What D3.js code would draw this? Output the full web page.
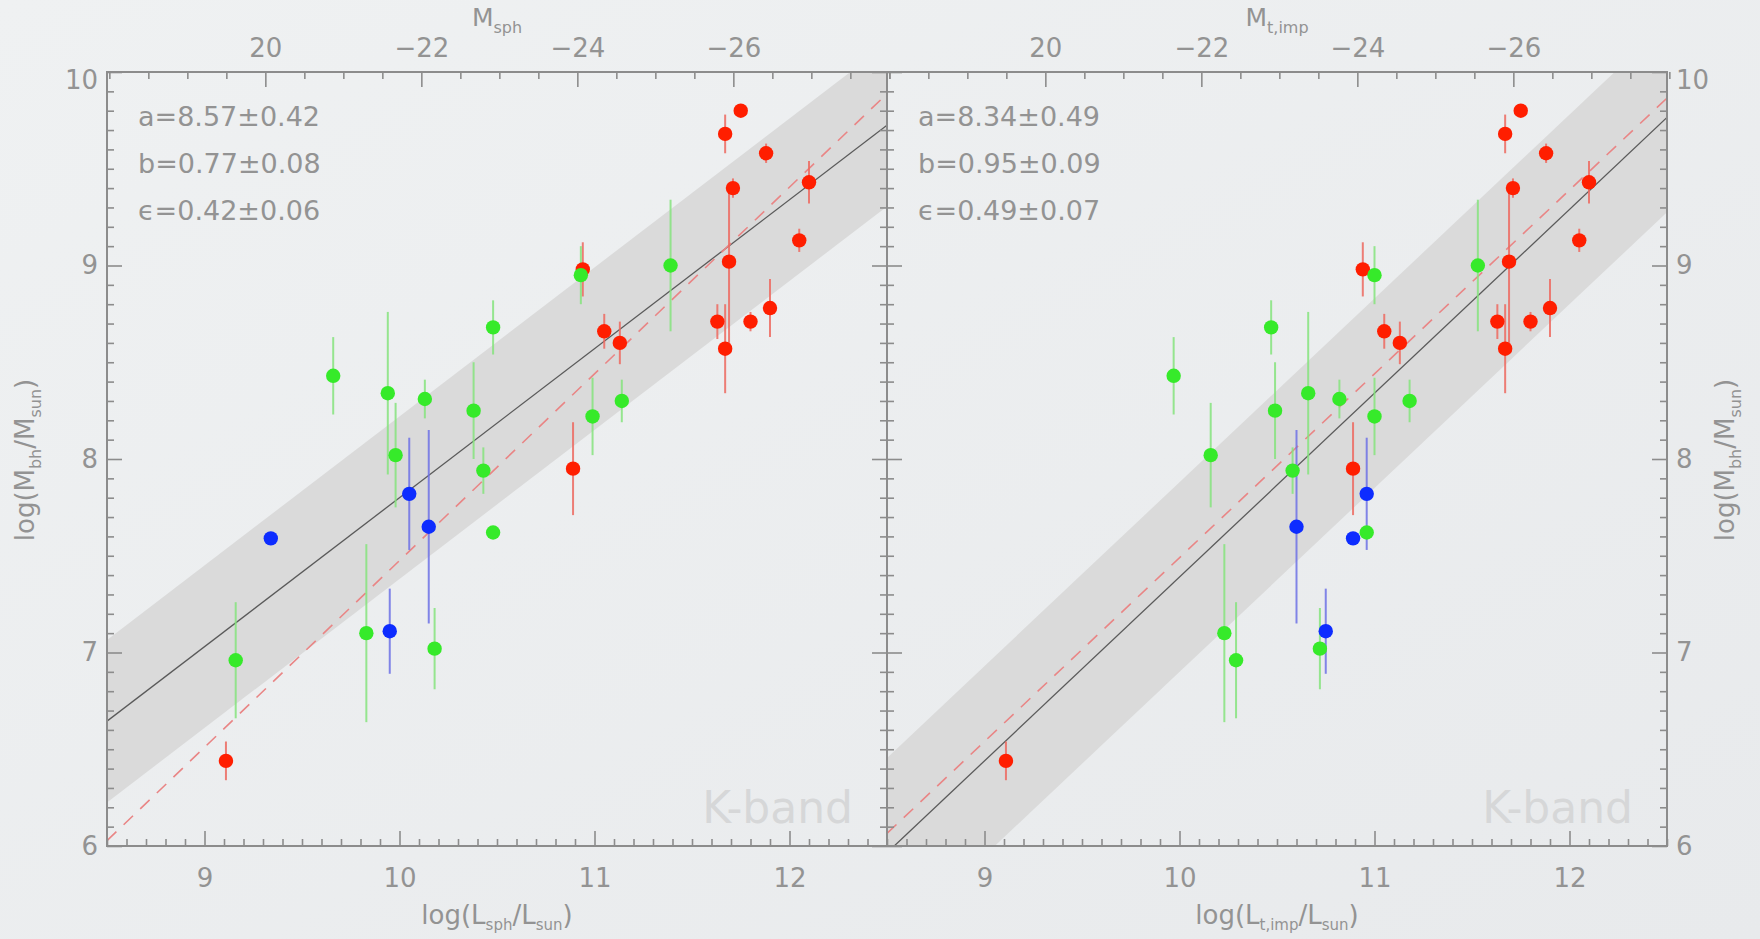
<!DOCTYPE html>
<html><head><meta charset="utf-8">
<script src="https://cdn.jsdelivr.net/npm/d3@7"></script>
<style>body{margin:0;background:#e9ebec;} svg{display:block}</style>
</head><body>
<svg id="chart" width="1760" height="939"></svg>
<script>
// ---------------- data ----------------
// red: ellipticals (same luminosity in both panels)
const redLogM   = [6.44, 7.95, 8.98, 8.66, 8.60, 9.68, 9.80, 9.58, 9.43, 9.40, 9.02, 9.13, 8.78, 8.71, 8.71, 8.57];
const redErrLo  = [0.10, 0.24, 0.14, 0.09, 0.11, 0.10, 0.03, 0.05, 0.11, 0.05, 0.42, 0.06, 0.15, 0.05, 0.09, 0.23];
const redErrHi  = [0.10, 0.24, 0.14, 0.09, 0.11, 0.10, 0.03, 0.05, 0.11, 0.05, 0.38, 0.06, 0.15, 0.05, 0.09, 0.23];
const redLsph   = [9.11, 10.89, 10.94, 11.05, 11.13, 11.67, 11.75, 11.88, 12.10, 11.71, 11.69, 12.05, 11.90, 11.80, 11.63, 11.67];
const redLtot   = [9.11, 10.89, 10.94, 11.05, 11.13, 11.67, 11.75, 11.88, 12.10, 11.71, 11.69, 12.05, 11.90, 11.80, 11.63, 11.67];
// green
const greenLogM = [6.96, 8.43, 7.10, 8.34, 8.02, 8.31, 7.02, 8.25, 7.94, 7.62, 8.68, 8.95, 8.22, 8.30, 9.00];
const greenErr  = [0.30, 0.20, 0.46, 0.42, 0.27, 0.10, 0.21, 0.25, 0.12, 0.03, 0.14, 0.15, 0.20, 0.11, 0.34];
const greenLsph = [9.16, 9.66, 9.83, 9.94, 9.98, 10.13, 10.18, 10.38, 10.43, 10.48, 10.48, 10.93, 10.99, 11.14, 11.39];
const greenLtot = [10.29, 9.97, 10.23, 10.66, 10.16, 10.82, 10.72, 10.49, 10.58, 10.96, 10.47, 11.00, 11.00, 11.18, 11.53];
// blue
const blueLogM  = [7.59, 7.11, 7.82, 7.65];
const blueErr   = [0.03, 0.22, 0.29, 0.50];
const blueLsph  = [9.34, 9.95, 10.05, 10.15];
const blueLtot  = [10.89, 10.75, 10.96, 10.60];

// fits (log Mbh = a + b (logL - 11)), scatter eps; dashed reference line
const fitA   = [8.57, 8.34];
const fitB   = [0.77, 0.95];
const fitEps = [0.42, 0.49];
const refA   = [8.44, 8.44];
const refB   = [0.965, 0.95];
const pivot  = 11;

const statLabels = [["a=8.57±0.42", "b=0.77±0.08", "ϵ=0.42±0.06"],
                    ["a=8.34±0.49", "b=0.95±0.09", "ϵ=0.49±0.07"]];
const xTicks = [9, 10, 11, 12];
const yTicks = [6, 7, 8, 9, 10];
const magTicks = [-20, -22, -24, -26];
const magTickLabels = ["20", "−22", "−24", "−26"];
const topTitleSub = ["sph", "t,imp"];
const bottomTitleSub = ["sph", "t,imp"];
const bandLabel = "K-band";

// ---------------- layout ----------------
const W = 1760, H = 939;
const panels = [{x0: 107, x1: 887}, {x0: 887, x1: 1667}];
const yTop = 72, yBot = 846;
const font = "DejaVu Sans";
const txtCol = "#939393";
const axCol = "#8c8c8c";

const svg = d3.select('#chart');
const defs = svg.append('defs');
const grad = defs.append('linearGradient').attr('id', 'bg').attr('x1', 0).attr('y1', 0).attr('x2', 1).attr('y2', 1);
grad.append('stop').attr('offset', '0%').attr('stop-color', '#eff1f2');
grad.append('stop').attr('offset', '100%').attr('stop-color', '#e8eaec');
svg.append('rect').attr('width', W).attr('height', H).attr('fill', 'url(#bg)');

const Y = d3.scaleLinear().domain([6, 10]).range([yBot, yTop]);
const magOf = l => 3.28 - 2.5 * l;

const groups = [
  {m: redLogM, lo: redErrLo, hi: redErrHi, x: [redLsph, redLtot], fill: '#ff1e00', err: '#ee6a60'},
  {m: greenLogM, lo: greenErr, hi: greenErr, x: [greenLsph, greenLtot], fill: '#36ea2a', err: '#86e47e'},
  {m: blueLogM, lo: blueErr, hi: blueErr, x: [blueLsph, blueLtot], fill: '#0d2cff', err: '#6e72e6'}
];

const minorX = d3.range(85, 126).map(v => v / 10).filter(v => v % 1 !== 0);
const minorY = d3.range(60, 101).map(v => v / 10).filter(v => v % 1 !== 0);
const minorM = d3.range(-18, -28.1, -0.5).filter(v => !magTicks.includes(v));

function styleAxis(sel, labels) {
  sel.select('.domain').remove();
  sel.selectAll('line').attr('stroke', axCol).attr('stroke-width', 1.6);
  sel.selectAll('text').attr('fill', txtCol).attr('font-family', font).attr('font-size', 26);
  if (!labels) sel.selectAll('text').remove();
}

panels.forEach((p, i) => {
  const X = d3.scaleLinear().domain([8.5, 12.5]).range([p.x0, p.x1]);
  const M = d3.scaleLinear().domain([magOf(8.5), magOf(12.5)]).range([p.x0, p.x1]);

  defs.append('clipPath').attr('id', 'clip' + i)
    .append('rect').attr('x', p.x0).attr('y', yTop).attr('width', p.x1 - p.x0).attr('height', yBot - yTop);
  const g = svg.append('g').attr('clip-path', `url(#clip${i})`);

  const fit = l => fitA[i] + fitB[i] * (l - pivot);
  const ref = l => refA[i] + refB[i] * (l - pivot);
  const xs = [8.5, 12.5];

  g.append('path').datum(xs)
    .attr('d', d3.area().x(d => X(d)).y0(d => Y(fit(d) - fitEps[i])).y1(d => Y(fit(d) + fitEps[i])))
    .attr('fill', '#dadada');

  g.append('text').attr('x', p.x1 - 34).attr('y', 823).attr('text-anchor', 'end')
    .attr('font-family', font).attr('font-size', 44).attr('fill', '#d6d7d8').text(bandLabel);

  g.append('path').datum(xs).attr('d', d3.line().x(d => X(d)).y(d => Y(fit(d))))
    .attr('stroke', '#5a5a5a').attr('stroke-width', 1.3).attr('fill', 'none');
  g.append('path').datum(xs).attr('d', d3.line().x(d => X(d)).y(d => Y(ref(d))))
    .attr('stroke', '#e98585').attr('stroke-width', 1.6).attr('fill', 'none')
    .attr('stroke-dasharray', '13,10');

  groups.forEach(gr => {
    const data = gr.m.map((m, k) => ({m, lo: gr.lo[k], hi: gr.hi[k], l: gr.x[i][k]}));
    g.append('g').selectAll('line').data(data).join('line')
      .attr('x1', d => X(d.l)).attr('x2', d => X(d.l))
      .attr('y1', d => Y(d.m - d.lo)).attr('y2', d => Y(d.m + d.hi))
      .attr('stroke', gr.err).attr('stroke-width', 2).attr('opacity', 0.85);
  });
  groups.forEach(gr => {
    const data = gr.m.map((m, k) => ({m, l: gr.x[i][k]}));
    g.append('g').selectAll('circle').data(data).join('circle')
      .attr('cx', d => X(d.l)).attr('cy', d => Y(d.m)).attr('r', 7.2)
      .attr('fill', gr.fill);
  });

  // stats text
  statLabels[i].forEach((s, k) => {
    svg.append('text').attr('x', p.x0 + 31).attr('y', 126 + k * 47)
      .attr('font-family', font).attr('font-size', 27).attr('fill', txtCol).text(s);
  });

  // axes
  const ax = (a, tr, labels) => { const s = svg.append('g').attr('transform', tr).call(a); styleAxis(s, labels); return s; };
  ax(d3.axisBottom(X).tickValues(xTicks).tickSize(-15).tickPadding(23).tickFormat(d3.format('d')), `translate(0,${yBot})`, true);
  ax(d3.axisBottom(X).tickValues(minorX).tickSize(-7).tickFormat(''), `translate(0,${yBot})`, false);
  ax(d3.axisTop(M).tickValues(magTicks).tickSize(-15).tickPadding(15).tickFormat((d, k) => magTickLabels[k]), `translate(0,${yTop})`, true);
  ax(d3.axisTop(M).tickValues(minorM).tickSize(-7).tickFormat(''), `translate(0,${yTop})`, false);
  const la = ax(d3.axisLeft(Y).tickValues(yTicks).tickSize(-15).tickPadding(9).tickFormat(d3.format('d')), `translate(${p.x0},0)`, i === 0);
  ax(d3.axisLeft(Y).tickValues(minorY).tickSize(-7).tickFormat(''), `translate(${p.x0},0)`, false);
  const ra = ax(d3.axisRight(Y).tickValues(yTicks).tickSize(-15).tickPadding(9).tickFormat(d3.format('d')), `translate(${p.x1},0)`, i === 1);
  ax(d3.axisRight(Y).tickValues(minorY).tickSize(-7).tickFormat(''), `translate(${p.x1},0)`, false);
  // top label "10" sits slightly below the frame corner, as in the reference
  [la, ra].forEach(s => s.selectAll('.tick').filter(d => d === 10).select('text').attr('dy', '0.62em'));

  svg.append('rect').attr('x', p.x0).attr('y', yTop).attr('width', p.x1 - p.x0).attr('height', yBot - yTop)
    .attr('fill', 'none').attr('stroke', axCol).attr('stroke-width', 2);

  // titles
  const cx = (p.x0 + p.x1) / 2;
  const top = svg.append('text').attr('x', cx).attr('y', 26).attr('text-anchor', 'middle')
    .attr('font-family', font).attr('font-size', 25).attr('fill', txtCol);
  top.append('tspan').text('M');
  top.append('tspan').attr('font-size', 16).attr('dy', 7).text(topTitleSub[i]);

  const bot = svg.append('text').attr('x', cx).attr('y', 924).attr('text-anchor', 'middle')
    .attr('font-family', font).attr('font-size', 26).attr('fill', txtCol);
  bot.append('tspan').text('log(L');
  bot.append('tspan').attr('font-size', 15).attr('dy', 6).text(bottomTitleSub[i]);
  bot.append('tspan').attr('dy', -6).text('/L');
  bot.append('tspan').attr('font-size', 15).attr('dy', 6).text('sun');
  bot.append('tspan').attr('dy', -6).text(')');
});

// y titles
[34, 1734].forEach(x => {
  const t = svg.append('text').attr('transform', `translate(${x},460) rotate(-90)`).attr('text-anchor', 'middle')
    .attr('font-family', font).attr('font-size', 26).attr('fill', txtCol);
  t.append('tspan').text('log(M');
  t.append('tspan').attr('font-size', 16).attr('dy', 7).text('bh');
  t.append('tspan').attr('dy', -7).text('/M');
  t.append('tspan').attr('font-size', 16).attr('dy', 7).text('sun');
  t.append('tspan').attr('dy', -7).text(')');
});
</script>
</body></html>
